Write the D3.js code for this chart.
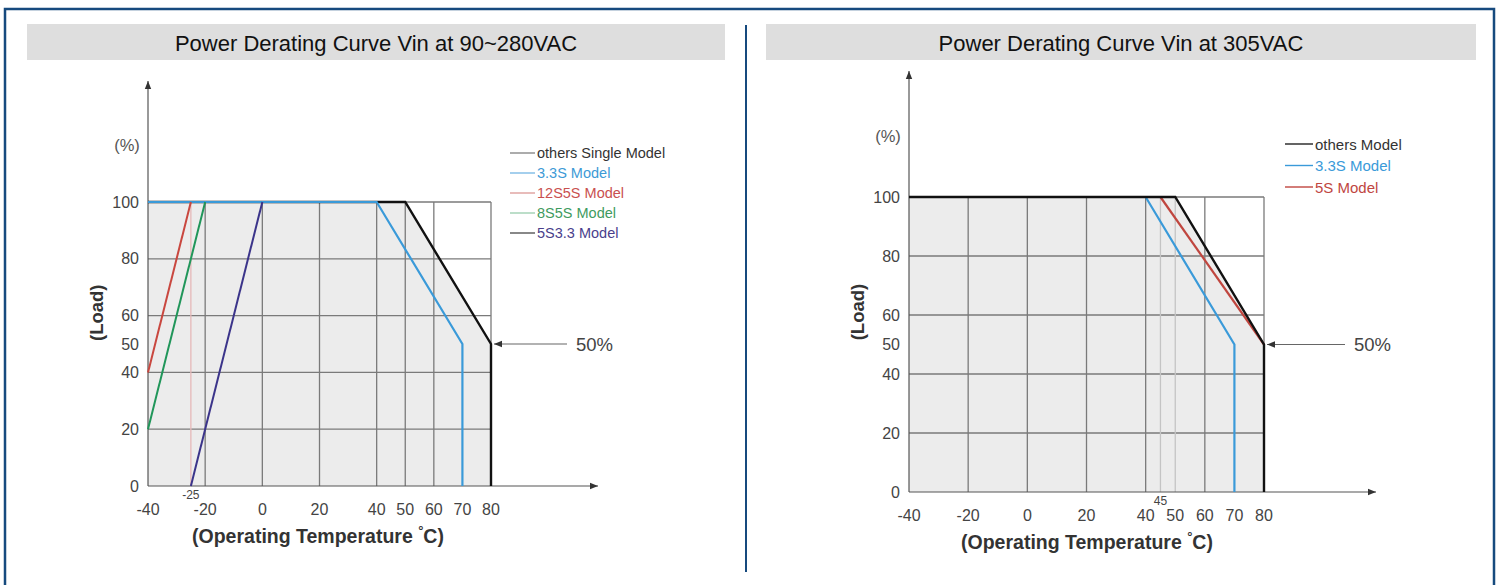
<!DOCTYPE html>
<html>
<head>
<meta charset="utf-8">
<script src="https://cdn.jsdelivr.net/npm/d3@7"></script>
<style>
  body { margin: 0; background: #fff; }
  svg { display: block; font-family: "Liberation Sans", Arial, sans-serif; }
</style>
</head>
<body>
<svg id="chart"></svg>
<script>
const W = 1499, H = 585;

// data
const tempTicks = [-40, -20, 0, 20, 40, 50, 60, 70, 80];
const loadTicks = [0, 20, 40, 50, 60, 80, 100];
const gridYVals = [20, 40, 60, 80, 100];

const leftTitle = 'Power Derating Curve Vin at 90~280VAC';
const leftGridX = [-20, 0, 20, 40, 50, 60, 80];
const leftFaintX = [-25];
const leftOthers = [[-40, 100], [50, 100], [80, 50], [80, 0]];
const left33S = [[-40, 100], [40, 100], [70, 50], [70, 0]];
const left12S5S = [[-40, 40], [-25, 100]];
const left8S5S = [[-40, 20], [-20, 100]];
const left5S33 = [[-25, 0], [0, 100]];
const leftLegend = ['others Single Model', '3.3S Model', '12S5S Model', '8S5S Model', '5S3.3 Model'];

const rightTitle = 'Power Derating Curve Vin at 305VAC';
const rightGridX = [-20, 0, 20, 40, 60, 80];
const rightFaintX = [45, 50];
const rightOthers = [[-40, 100], [50, 100], [80, 50], [80, 0]];
const right33S = [[-40, 100], [40, 100], [70, 50], [70, 0]];
const right5S = [[45, 100], [80, 50]];
const rightLegend = ['others Model', '3.3S Model', '5S Model'];

const svg = d3.select('#chart').attr('width', W).attr('height', H);

// outer frame + divider
svg.append('rect')
  .attr('x', 5).attr('y', 9).attr('width', 1489).attr('height', 620)
  .attr('fill', 'none').attr('stroke', '#164a7e').attr('stroke-width', 2.5);
svg.append('line')
  .attr('x1', 746).attr('x2', 746).attr('y1', 25).attr('y2', 572)
  .attr('stroke', '#164a7e').attr('stroke-width', 2);

const defs = svg.append('defs');
defs.append('marker')
  .attr('id', 'arr').attr('viewBox', '0 0 10 10')
  .attr('refX', 10).attr('refY', 5)
  .attr('markerWidth', 7).attr('markerHeight', 7)
  .attr('orient', 'auto-start-reverse')
  .append('path').attr('d', 'M0,1 L10,5 L0,9 Z').attr('fill', '#333');

function drawPanel(p) {
  const g = svg.append('g');
  const x = d3.scaleLinear().domain([-40, 80]).range([p.x0, p.x1]);
  const y = d3.scaleLinear().domain([0, 100]).range([p.y0, p.y1]);

  // title bar
  g.append('rect')
    .attr('x', p.barX).attr('y', 24).attr('width', p.barW).attr('height', 36)
    .attr('fill', '#dedede');
  g.append('text')
    .attr('x', p.barX + p.barW / 2).attr('y', 43)
    .attr('text-anchor', 'middle').attr('dominant-baseline', 'central')
    .attr('font-size', 22).attr('fill', '#111')
    .text(p.title);

  // gray area under the main curve
  const area = [[-40, 0]].concat(p.others);
  g.append('path')
    .attr('d', d3.line().x(d => x(d[0])).y(d => y(d[1]))(area) + 'Z')
    .attr('fill', '#ececec');

  // grid
  g.selectAll('line.gx').data(p.gridX).enter().append('line')
    .attr('x1', d => x(d)).attr('x2', d => x(d))
    .attr('y1', y(0)).attr('y2', y(100))
    .attr('stroke', '#7a7a7a').attr('stroke-width', 1.3);
  g.selectAll('line.gy').data(gridYVals).enter().append('line')
    .attr('x1', x(-40)).attr('x2', x(80))
    .attr('y1', d => y(d)).attr('y2', d => y(d))
    .attr('stroke', '#7a7a7a').attr('stroke-width', 1.3);
  g.selectAll('line.gf').data(p.faintX).enter().append('line')
    .attr('x1', d => x(d)).attr('x2', d => x(d))
    .attr('y1', y(0)).attr('y2', y(100))
    .attr('stroke', p.faintColor).attr('stroke-width', 1.3);

  // axes with arrows
  g.append('line')
    .attr('x1', x(-40)).attr('x2', x(-40)).attr('y1', y(0)).attr('y2', p.yArrow)
    .attr('stroke', '#555').attr('stroke-width', 1.2).attr('marker-end', 'url(#arr)');
  g.append('line')
    .attr('x1', x(-40)).attr('x2', p.xArrow).attr('y1', y(0)).attr('y2', y(0))
    .attr('stroke', '#555').attr('stroke-width', 1.2).attr('marker-end', 'url(#arr)');

  // tick labels
  g.selectAll('text.xt').data(tempTicks).enter().append('text')
    .attr('x', d => x(d)).attr('y', y(0) + 23)
    .attr('text-anchor', 'middle').attr('dominant-baseline', 'central')
    .attr('font-size', 16).attr('fill', '#444')
    .text(d => d);
  g.selectAll('text.yt').data(loadTicks).enter().append('text')
    .attr('x', x(-40) - 9).attr('y', d => y(d))
    .attr('text-anchor', 'end').attr('dominant-baseline', 'central')
    .attr('font-size', 16).attr('fill', '#444')
    .text(d => d);
  g.append('text')
    .attr('x', x(p.faintX[0])).attr('y', y(0) + 9)
    .attr('text-anchor', 'middle').attr('dominant-baseline', 'central')
    .attr('font-size', 12).attr('fill', '#444')
    .text(p.faintX[0]);

  // axis titles
  g.append('text')
    .attr('x', x(-40) - 21).attr('y', p.pctY)
    .attr('text-anchor', 'middle').attr('dominant-baseline', 'central')
    .attr('font-size', 16.5).attr('fill', '#555').text('(%)');
  g.append('text')
    .attr('transform', 'translate(' + (x(-40) - 52) + ',' + y(61) + ') rotate(-90)')
    .attr('text-anchor', 'middle').attr('dominant-baseline', 'central')
    .attr('font-size', 18.5).attr('font-weight', 'bold').attr('fill', '#333')
    .text('(Load)');
  const xt = g.append('text')
    .attr('x', p.xTitleX).attr('y', y(0) + 50)
    .attr('text-anchor', 'middle').attr('dominant-baseline', 'central')
    .attr('font-size', 19.5).attr('font-weight', 'bold').attr('fill', '#333');
  xt.append('tspan').text('(Operating Temperature ');
  xt.append('tspan').attr('dy', -6).attr('font-size', 13).text('°');
  xt.append('tspan').attr('dy', 6).text('C)');

  // series
  const line = d3.line().x(d => x(d[0])).y(d => y(d[1]));
  p.series.forEach(s => {
    g.append('path')
      .attr('d', line(s.pts))
      .attr('fill', 'none').attr('stroke', s.color)
      .attr('stroke-width', s.w).attr('stroke-linejoin', 'miter');
  });

  // 50% annotation
  g.append('line')
    .attr('x1', p.annX).attr('x2', x(80) + 3).attr('y1', y(50)).attr('y2', y(50))
    .attr('stroke', '#666').attr('stroke-width', 1.2).attr('marker-end', 'url(#arr)');
  g.append('text')
    .attr('x', p.annX + 9).attr('y', y(50))
    .attr('dominant-baseline', 'central')
    .attr('font-size', 18.5).attr('fill', '#444').text('50%');

  // legend
  const lg = g.selectAll('g.leg').data(p.legend).enter().append('g')
    .attr('transform', (d, i) => 'translate(' + p.legX + ',' + (p.legY + i * p.legStep) + ')');
  lg.append('line')
    .attr('x1', 0).attr('x2', p.legLen).attr('y1', 0).attr('y2', 0)
    .attr('stroke', (d, i) => p.legLine[i]).attr('stroke-width', 1.4);
  lg.append('text')
    .attr('x', p.legLen + 2).attr('y', 0)
    .attr('dominant-baseline', 'central')
    .attr('font-size', p.legFont).attr('fill', (d, i) => p.legText[i])
    .text(d => d);
}

drawPanel({
  title: leftTitle, barX: 27, barW: 698,
  x0: 148, x1: 491, y0: 486, y1: 202,
  gridX: leftGridX, faintX: leftFaintX, faintColor: '#e6b8b8',
  others: leftOthers, yArrow: 81, xArrow: 598, pctY: 145, xTitleX: 318,
  series: [
    { pts: leftOthers, color: '#111', w: 2.4 },
    { pts: left33S, color: '#3a9ad9', w: 2.2 },
    { pts: left12S5S, color: '#c9473f', w: 2 },
    { pts: left8S5S, color: '#21965a', w: 2 },
    { pts: left5S33, color: '#3b348a', w: 2 }
  ],
  annX: 567,
  legend: leftLegend, legX: 510, legY: 153, legStep: 20, legLen: 25, legFont: 14.5,
  legLine: ['#888', '#7dbbe6', '#dfa09c', '#9fd0b2', '#555'],
  legText: ['#333', '#3d9ad6', '#c9504f', '#3f9b60', '#4a3f8c']
});

drawPanel({
  title: rightTitle, barX: 766, barW: 710,
  x0: 909, x1: 1264, y0: 492, y1: 197,
  gridX: rightGridX, faintX: rightFaintX, faintColor: '#c4c4c4',
  others: rightOthers, yArrow: 71, xArrow: 1376, pctY: 136, xTitleX: 1087,
  series: [
    { pts: right33S, color: '#3a9ad9', w: 2.2 },
    { pts: right5S, color: '#c0463f', w: 2.2 },
    { pts: rightOthers, color: '#111', w: 2.4 }
  ],
  annX: 1345,
  legend: rightLegend, legX: 1285, legY: 144, legStep: 21.5, legLen: 28, legFont: 15,
  legLine: ['#222', '#3a9ad9', '#c0463f'],
  legText: ['#333', '#3a9ad9', '#c0463f']
});
</script>
</body>
</html>
